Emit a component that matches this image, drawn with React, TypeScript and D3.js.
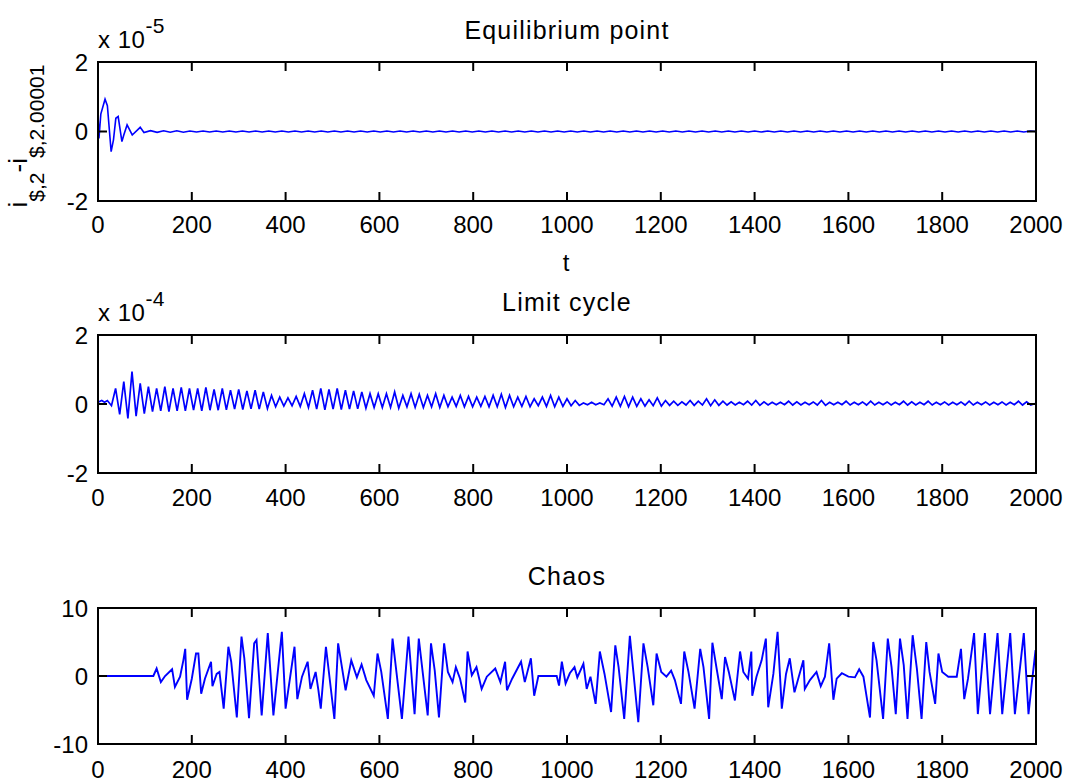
import React from 'react';
import * as d3 from 'd3';

// ---------- data ----------
const xTicks = [0, 200, 400, 600, 800, 1000, 1200, 1400, 1600, 1800, 2000];

// Equilibrium point (values x 1e-5)
const eqTimes = [0, 2, 6, 15, 20, 28, 33, 38, 43, 51, 55, 62, 73, 90, 98];
const eqValues = [0.48, -0.2, 0.5, 0.93, 0.74, -0.58, -0.24, 0.38, 0.43, -0.29, -0.1, 0.19, -0.1, 0.12, -0.03];
const eqTailStart = 112;
const eqTailPeriod = 28;
const eqTailAmp = [
  0.025, 0.02, 0.02, 0.015, 0.015, 0.015, 0.015, 0.015, 0.015, 0.015, 0.015, 0.015, 0.015, 0.015, 0.015, 0.015, 0.015,
  0.015, 0.015, 0.015, 0.015, 0.015, 0.015, 0.015, 0.015, 0.015, 0.015, 0.015, 0.015, 0.015, 0.015, 0.015, 0.015, 0.015,
  0.015, 0.015, 0.015, 0.015, 0.015, 0.015, 0.015, 0.015, 0.015, 0.015, 0.015, 0.015, 0.015, 0.015, 0.015, 0.015, 0.015,
  0.015, 0.015, 0.015, 0.015, 0.015, 0.015, 0.015, 0.015, 0.015, 0.015, 0.015, 0.015, 0.015, 0.015, 0.015, 0.015, 0.015,
];

// Limit cycle (values x 1e-4)
const lcHeadTimes = [0, 8, 14];
const lcHeadValues = [0.05, 0.1, 0.05];
const lcStart = 20;
const lcPeriod = 17.5;
const lcPeak = [
  0.1, 0.45, 0.65, 0.94, 0.6,
  0.5, 0.45, 0.5, 0.45, 0.48, 0.45, 0.45, 0.48, 0.42, 0.45,
  0.4, 0.42, 0.38, 0.4, 0.35,
  0.25, 0.2, 0.18, 0.22, 0.3,
  0.4, 0.45, 0.42, 0.45, 0.4, 0.38, 0.35, 0.3,
  0.3, 0.3, 0.35, 0.25, 0.3, 0.28, 0.25, 0.3, 0.25, 0.2, 0.25, 0.22,
  0.2, 0.22, 0.25, 0.28, 0.25, 0.2, 0.22, 0.15, 0.2, 0.25, 0.2, 0.15, 0.1,
  0.03, 0.05, 0.03,
  0.15, 0.2, 0.22, 0.2, 0.15, 0.12, 0.18, 0.1,
  0.08, 0.06, 0.1, 0.08, 0.15, 0.12, 0.08, 0.06, 0.05, 0.08, 0.1, 0.06, 0.05, 0.05, 0.08,
  0.06, 0.05, 0.06, 0.1, 0.05, 0.05, 0.08, 0.05, 0.06, 0.08, 0.05, 0.06, 0.05, 0.08, 0.06,
  0.05, 0.08, 0.05, 0.06, 0.05, 0.06, 0.08, 0.05, 0.06, 0.05, 0.06, 0.05, 0.08, 0.06,
];
const lcTrough = [
  -0.05, -0.3, -0.42, -0.35, -0.28,
  -0.22, -0.2, -0.22, -0.2, -0.2, -0.18, -0.2, -0.18, -0.18, -0.17,
  -0.15, -0.16, -0.14, -0.15, -0.13,
  -0.08, -0.06, -0.05, -0.07, -0.1,
  -0.15, -0.17, -0.15, -0.16, -0.15, -0.14, -0.12, -0.1,
  -0.1, -0.1, -0.12, -0.08, -0.1, -0.1, -0.08, -0.1, -0.08, -0.07, -0.08, -0.08,
  -0.07, -0.08, -0.08, -0.1, -0.08, -0.07, -0.08, -0.05, -0.07, -0.08, -0.07, -0.05, -0.04,
  -0.02, -0.02, -0.02,
  -0.06, -0.07, -0.08, -0.07, -0.06, -0.05, -0.06, -0.04,
  -0.04, -0.03, -0.04, -0.03, -0.05, -0.04, -0.03, -0.03, -0.02, -0.03, -0.04, -0.03, -0.02, -0.02, -0.03,
  -0.03, -0.02, -0.03, -0.04, -0.02, -0.02, -0.03, -0.02, -0.03, -0.03, -0.02, -0.03, -0.02, -0.03, -0.03,
  -0.02, -0.03, -0.02, -0.03, -0.02, -0.03, -0.03, -0.02, -0.03, -0.02, -0.03, -0.02, -0.03, -0.03,
];

// Chaos
const chaosTimes = [
  0, 118, 125, 134, 143, 158, 164, 175, 182, 186, 190, 200, 209, 214, 220, 228, 241, 244, 253, 259,
  268, 278, 284, 296, 306, 312, 322, 333, 338, 349, 362, 374, 392, 400, 419, 425, 435, 447, 453, 464,
  470, 475, 486, 504, 512, 528, 540, 552, 562, 572, 588, 596, 604, 618, 628, 648, 662, 675, 684, 703,
  710, 718, 727, 738, 746, 756, 763, 772, 783, 788, 797, 807, 818, 829, 847, 858, 868, 872, 883, 902,
  910, 923, 930, 939, 978, 983, 989, 997, 1006, 1016, 1022, 1035, 1042, 1050, 1061, 1070, 1080, 1094, 1103, 1110,
  1122, 1134, 1152, 1163, 1172, 1184, 1191, 1201, 1212, 1222, 1230, 1243, 1250, 1259, 1272, 1284, 1291, 1303, 1310, 1319,
  1330, 1337, 1345, 1358, 1369, 1376, 1386, 1393, 1395, 1404, 1415, 1424, 1429, 1440, 1449, 1458, 1467, 1475, 1485, 1493,
  1504, 1507, 1518, 1532, 1541, 1550, 1559, 1568, 1575, 1586, 1600, 1614, 1623, 1632, 1639, 1646, 1653, 1660, 1674, 1684,
  1692, 1701, 1710, 1718, 1726, 1737, 1746, 1756, 1766, 1773, 1785, 1792, 1800, 1813, 1831, 1840, 1847, 1855, 1868, 1876,
  1891, 1902, 1918, 1928, 1945, 1955, 1974, 1984, 1991, 1999, 2000,
];
const chaosValues = [
  0, 0, 1.1, -0.9, 0, 1.0, -1.6, -0.1, 2.3, 4.0, -3.5, -0.4, 3.3, 3.3, -2.6, -0.4, 2.1, -1.5, 0.3, 0.6,
  -4.8, 4.3, 2.1, -6.1, 5.8, 2.6, -6.2, 4.8, 5.3, -5.8, 6.3, -5.8, 6.5, -4.8, 4.3, -3.4, -0.1, 2.1, -1.9, 0.6,
  -2.1, -4.8, 4.3, -6.3, 4.8, -2.1, 2.3, -0.2, 1.7, -0.6, -2.9, 3.3, 0.6, -6.3, 5.5, -6.3, 5.8, -5.6, 5.5, -5.8,
  4.8, 0.8, -6.1, 4.8, 0.6, -0.9, 1.3, -0.4, -3.9, 3.6, 0.1, 1.3, -1.9, -0.1, 1.1, -0.9, 2.1, -2.1, -0.4, 2.1,
  -0.9, 2.6, -2.9, 0, 0, -1.4, 2.1, -1.1, 0.4, 1.3, -0.2, 1.8, -1.9, -0.1, -4.1, 3.6, 0.3, -5.3, 4.5, 1.3,
  -6.3, 5.9, -6.8, 4.8, 1.3, -4.3, 3.3, 0.6, -0.1, 0.8, -0.6, -4.1, 3.6, 0.6, -4.8, 4.0, 1.3, -6.3, 4.9, 1.1,
  -3.4, 2.8, 0.6, -3.6, 3.6, 0.6, -0.4, 3.6, -2.9, -0.1, 2.3, 5.5, -4.6, 0.3, 6.5, -4.8, 0.3, 2.6, -2.4, -0.4,
  2.3, -1.9, -0.6, 0.6, -1.5, -0.1, 4.8, -3.5, -0.4, 0.4, -0.1, -0.2, 1.0, -0.1, -3.1, -6.1, 5.0, 2.3, -6.3, 5.5,
  1.3, -5.6, 5.5, 1.6, -6.3, 6.0, 1.1, -6.3, 5.0, 0.6, -4.1, 3.3, 0.6, -0.1, -0.1, 4.0, -3.4, -0.4, 6.3, -5.6,
  6.3, -5.6, 6.3, -5.6, 6.3, -5.6, 6.3, -5.6, -1.1, 3.8, 0.3,
];

// ---------- helpers ----------
function buildEq(): [number, number][] {
  const pts: [number, number][] = eqTimes.map((t, i) => [t, eqValues[i]]);
  eqTailAmp.forEach((a, k) => {
    const t0 = eqTailStart + k * eqTailPeriod;
    if (t0 <= 2000) pts.push([t0, a]);
    if (t0 + eqTailPeriod / 2 <= 2000) pts.push([t0 + eqTailPeriod / 2, -a]);
  });
  pts.push([2000, 0]);
  return pts;
}
function buildLc(): [number, number][] {
  const pts: [number, number][] = lcHeadTimes.map((t, i) => [t, lcHeadValues[i]]);
  lcPeak.forEach((p, k) => {
    const t0 = lcStart + k * lcPeriod;
    if (t0 <= 2000) pts.push([t0, p]);
    if (t0 + lcPeriod / 2 <= 2000) pts.push([t0 + lcPeriod / 2, lcTrough[k]]);
  });
  pts.push([2000, 0.02]);
  return pts;
}
function buildChaos(): [number, number][] {
  return chaosTimes.map((t, i) => [t, chaosValues[i]]);
}

const FONT = "'Liberation Sans', Arial, Helvetica, sans-serif";
const FS = 24;
const LEFT = 98;
const RIGHT = 1036;

type PanelProps = {
  top: number;
  bottom: number;
  yDomain: [number, number];
  yTicks: number[];
  title: string;
  titleY: number;
  exponent?: string;
  data: [number, number][];
  xLabelY: number;
  lineWidth: number;
};

function Panel({ top, bottom, yDomain, yTicks, title, titleY, exponent, data, xLabelY, lineWidth }: PanelProps) {
  const x = d3.scaleLinear().domain([0, 2000]).range([LEFT, RIGHT]);
  const y = d3.scaleLinear().domain(yDomain).range([bottom, top]);
  const line = d3
    .line<[number, number]>()
    .x((d) => x(d[0]))
    .y((d) => y(d[1]))
    .curve(d3.curveLinear);
  const tl = 9;
  return (
    <g>
      <text
        x={(LEFT + RIGHT) / 2}
        y={titleY}
        textAnchor="middle"
        fontFamily={FONT}
        fontSize={25}
        letterSpacing={1.2}
      >
        {title}
      </text>
      {exponent && (
        <text x={LEFT} y={top - 14} fontFamily={FONT} fontSize={FS} letterSpacing={0.5}>
          x 10
          <tspan dy={-15} fontSize={FS - 3}>
            {exponent}
          </tspan>
        </text>
      )}
      <path d={line(data) || ''} fill="none" stroke="#0000ff" strokeWidth={lineWidth} strokeLinejoin="miter" />
      {xTicks.map((t) => (
        <g key={'xt' + t}>
          <line x1={x(t)} x2={x(t)} y1={bottom} y2={bottom - tl} stroke="#000" strokeWidth={2} />
          <line x1={x(t)} x2={x(t)} y1={top} y2={top + tl} stroke="#000" strokeWidth={2} />
          <text x={x(t)} y={xLabelY} textAnchor="middle" fontFamily={FONT} fontSize={FS}>
            {t}
          </text>
        </g>
      ))}
      {yTicks.map((v) => (
        <g key={'yt' + v}>
          <line x1={LEFT} x2={LEFT + tl} y1={y(v)} y2={y(v)} stroke="#000" strokeWidth={2} />
          <line x1={RIGHT} x2={RIGHT - tl} y1={y(v)} y2={y(v)} stroke="#000" strokeWidth={2} />
          <text x={LEFT - 10} y={y(v)} dy="0.36em" textAnchor="end" fontFamily={FONT} fontSize={FS}>
            {v}
          </text>
        </g>
      ))}
      <rect x={LEFT} y={top} width={RIGHT - LEFT} height={bottom - top} fill="none" stroke="#000" strokeWidth={2} />
    </g>
  );
}

export default function App() {
  const eq = buildEq();
  const lc = buildLc();
  const ch = buildChaos();
  return (
    <svg width={1072} height={782} style={{ position: 'absolute', left: 0, top: 0, background: '#fff' }}>
      <rect width={1072} height={782} fill="#fff" />
      <Panel
        top={62}
        bottom={201}
        yDomain={[-2, 2]}
        yTicks={[-2, 0, 2]}
        title="Equilibrium point"
        titleY={39}
        exponent="-5"
        data={eq}
        xLabelY={233}
        lineWidth={1.6}
      />
      <text x={566} y={271} textAnchor="middle" fontFamily={FONT} fontSize={FS}>
        t
      </text>
      <text transform="translate(27,136) rotate(-90)" textAnchor="middle" fontFamily={FONT} fontSize={26}>
        i
        <tspan dy={17} fontSize={21}>$,2</tspan>
        <tspan dy={-17}>-i</tspan>
        <tspan dy={17} fontSize={21}>$,2.00001</tspan>
      </text>
      <Panel
        top={335}
        bottom={473}
        yDomain={[-2, 2]}
        yTicks={[-2, 0, 2]}
        title="Limit cycle"
        titleY={311}
        exponent="-4"
        data={lc}
        xLabelY={506}
        lineWidth={1.7}
      />
      <Panel
        top={608}
        bottom={744}
        yDomain={[-10, 10]}
        yTicks={[-10, 0, 10]}
        title="Chaos"
        titleY={585}
        data={ch}
        xLabelY={778}
        lineWidth={1.9}
      />
    </svg>
  );
}
